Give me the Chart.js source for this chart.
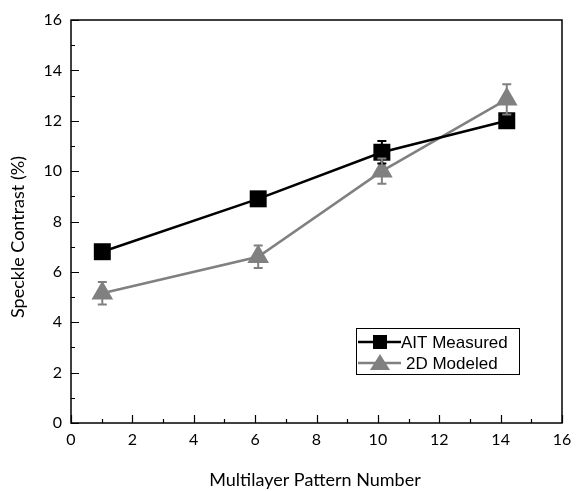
<!DOCTYPE html>
<html>
<head>
<meta charset="utf-8">
<script src="https://cdn.jsdelivr.net/npm/chart.js@4"></script>
<style>
html,body{margin:0;padding:0;background:#fff;}
#wrap{width:580px;height:491px;position:relative;}
</style>
</head>
<body>
<div id="wrap"><canvas id="c" width="580" height="491"></canvas></div>
<script>
// ---- data ----
const patternNumbers = [1.02, 6.1, 10.13, 14.2];
const aitMeasured = [6.8, 8.9, 10.75, 12.0];
const aitError = [0.15, 0.15, 0.45, 0.25];
const modeled2D = [5.15, 6.6, 10.0, 12.85];
const modeledError = [0.45, 0.45, 0.5, 0.6];
const xTicks = [0, 2, 4, 6, 8, 10, 12, 14, 16];
const yTicks = [0, 2, 4, 6, 8, 10, 12, 14, 16];
const seriesNames = ['AIT Measured', '2D Modeled'];
const xTitle = 'Multilayer Pattern Number';
const yTitle = 'Speckle Contrast (%)';

const BLACK = '#000000';
const GRAY = '#808080';
const tickFont = {family: 'Lato', size: 16};

const toXY = (xs, ys) => xs.map((x, i) => ({x: x, y: ys[i]}));

const framePlugin = {
  id: 'frame',
  afterDatasetsDraw(chart) {
    const ctx = chart.ctx;
    const xs = chart.scales.x, ys = chart.scales.y;
    const errs = [[aitMeasured, aitError, BLACK], [modeled2D, modeledError, GRAY]];
    ctx.save();
    ctx.lineWidth = 2;
    errs.forEach(([vals, es, col]) => {
      ctx.strokeStyle = col;
      vals.forEach((v, i) => {
        const px = xs.getPixelForValue(patternNumbers[i]);
        const top = ys.getPixelForValue(v + es[i]);
        const bot = ys.getPixelForValue(v - es[i]);
        ctx.beginPath();
        ctx.moveTo(px, top); ctx.lineTo(px, bot);
        ctx.moveTo(px - 4.5, top); ctx.lineTo(px + 4.5, top);
        ctx.moveTo(px - 4.5, bot); ctx.lineTo(px + 4.5, bot);
        ctx.stroke();
      });
    });
    ctx.restore();
  },
  afterDraw(chart) {
    const ctx = chart.ctx;
    const xs = chart.scales.x, ys = chart.scales.y;
    const a = chart.chartArea;
    ctx.save();
    ctx.strokeStyle = '#000';
    ctx.lineWidth = 1.5;
    ctx.strokeRect(a.left, a.top, a.right - a.left, a.bottom - a.top);
    ctx.lineWidth = 1.2;
    ctx.beginPath();
    for (let v = 0; v <= 16; v += 1) {
      const len = (v % 2 === 0) ? 8 : 4;
      const px = Math.round(xs.getPixelForValue(v)) + 0.5;
      ctx.moveTo(px, a.bottom); ctx.lineTo(px, a.bottom - len);
      const py = Math.round(ys.getPixelForValue(v)) + 0.5;
      ctx.moveTo(a.left, py); ctx.lineTo(a.left + len, py);
    }
    ctx.stroke();
    // axis titles
    ctx.fillStyle = '#000';
    ctx.font = '18px Lato, sans-serif';
    ctx.textAlign = 'center';
    ctx.textBaseline = 'alphabetic';
    ctx.fillText(xTitle, 315, 486);
    ctx.save();
    ctx.translate(18.5, 237);
    ctx.rotate(-Math.PI / 2);
    ctx.textBaseline = 'middle';
    ctx.fillText(yTitle, 0, 0);
    ctx.restore();
    // legend
    const L = 356, T = 328, R = 519, B = 374;
    ctx.lineWidth = 1;
    ctx.strokeStyle = '#000';
    ctx.strokeRect(L + 0.5, T + 0.5, R - L, B - T);
    const rows = [
      {y: 342, col: BLACK, style: 'rect', name: seriesNames[0]},
      {y: 363, col: GRAY, style: 'triangle', name: seriesNames[1]}
    ];
    rows.forEach(r => {
      ctx.strokeStyle = r.col;
      ctx.lineWidth = 2.5;
      ctx.beginPath();
      ctx.moveTo(358, r.y); ctx.lineTo(401, r.y);
      ctx.stroke();
      ctx.fillStyle = r.col;
      ctx.beginPath();
      if (r.style === 'rect') {
        ctx.fillRect(373, r.y - 7, 14, 14);
      } else {
        ctx.moveTo(380, r.y - 9);
        ctx.lineTo(370, r.y + 7);
        ctx.lineTo(390, r.y + 7);
        ctx.closePath();
        ctx.fill();
      }
      ctx.fillStyle = '#000';
      ctx.font = '17px "Liberation Sans", Arial, sans-serif';
      ctx.textBaseline = 'middle';
      ctx.textAlign = 'left';
      ctx.fillText(r.name, r.style === 'rect' ? 401 : 406, r.y + 1);
    });
    ctx.restore();
  }
};

new Chart(document.getElementById('c'), {
  type: 'line',
  data: {
    datasets: [
      {
        label: seriesNames[0],
        data: toXY(patternNumbers, aitMeasured),
        borderColor: BLACK,
        backgroundColor: BLACK,
        borderWidth: 2.5,
        pointStyle: 'rect',
        pointRadius: 12,
        pointBorderWidth: 0,
        tension: 0
      },
      {
        label: seriesNames[1],
        data: toXY(patternNumbers, modeled2D),
        borderColor: GRAY,
        backgroundColor: GRAY,
        borderWidth: 2.5,
        pointStyle: 'triangle',
        pointRadius: 12.5,
        pointBorderWidth: 0,
        tension: 0
      }
    ]
  },
  options: {
    responsive: false,
    animation: false,
    devicePixelRatio: 1,
    layout: {padding: {left: 0, right: 18, top: 20, bottom: 0}},
    plugins: {legend: {display: false}, tooltip: {enabled: false}},
    scales: {
      x: {
        type: 'linear',
        min: 0, max: 16,
        afterBuildTicks(s) { s.ticks = xTicks.map(v => ({value: v})); },
        afterFit(s) { s.height = 68; },
        grid: {display: false, drawTicks: false},
        border: {display: false},
        ticks: {font: tickFont, color: '#000', padding: 7, maxRotation: 0, autoSkip: false},
        title: {display: false}
      },
      y: {
        type: 'linear',
        min: 0, max: 16,
        afterBuildTicks(s) { s.ticks = yTicks.map(v => ({value: v})); },
        afterFit(s) { s.width = 71; },
        grid: {display: false, drawTicks: false},
        border: {display: false},
        ticks: {font: tickFont, color: '#000', padding: 9, autoSkip: false},
        title: {display: false}
      }
    }
  },
  plugins: [framePlugin]
});
</script>
</body>
</html>
